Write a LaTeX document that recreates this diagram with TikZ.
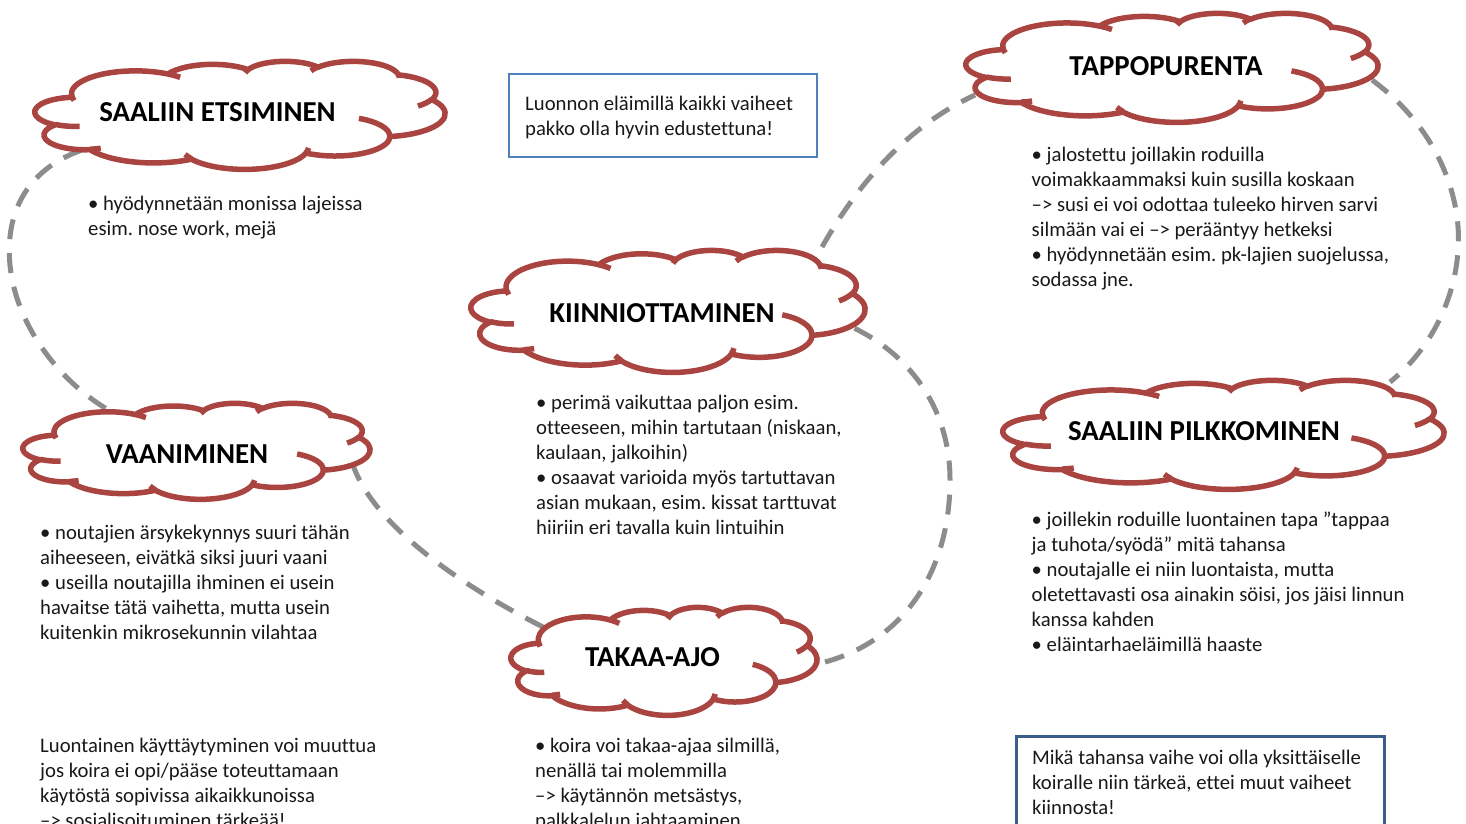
\documentclass[tikz,border=0pt]{standalone}
\usepackage{fontspec}
\setmainfont{Carlito}[Ligatures=NoCommon]
\usetikzlibrary{calc}
\definecolor{cloudred}{RGB}{170,68,64}
\definecolor{dashgray}{RGB}{140,140,140}
\definecolor{boxblue}{RGB}{79,129,189}
\definecolor{boxdark}{RGB}{56,93,138}
\definecolor{txt}{RGB}{25,25,25}
\frenchspacing

% one elliptic arc of the Office cloud shape: wR, hR, start angle, sweep (visual angles)
\newcommand\carc[4]{arc[x radius=#1, y radius=#2, start angle={atan2(#1*sin(#3),#2*cos(#3))}, delta angle={mod(atan2(#1*sin(#3+#4),#2*cos(#3+#4))-atan2(#1*sin(#3),#2*cos(#3))+720,360)}]}

% cloud drawn in the box of node #1, of width #2 and height #3
\newcommand\drawcloud[3]{%
  \begin{scope}[shift={(#1.north west)}, x={({#2pt/432},0pt)}, y={(0pt,{-#3pt/432})}]
    \filldraw[cloudline, fill=white] (39.00,143.70)
      \carc{67.53}{91.90}{-190.48748}{123.78053}
      \carc{53.33}{72.67}{-144.10238}{89.94523}
      \carc{43.65}{59.45}{-145.80792}{99.72302}
      \carc{48.57}{65.95}{-130.98607}{117.24173}
      \carc{53.33}{72.73}{-78.70888}{109.02692}
      \carc{67.75}{92.20}{-46.26725}{130.269}
      \carc{57.85}{78.67}{0.62502}{114.03333}
      \carc{67.52}{92.15}{22.4516}{115.17255}
      \carc{77.20}{105.43}{66.24263}{75.71102}
      \carc{43.60}{59.18}{-274.94208}{146.73557}
      \carc{43.45}{59.45}{-246.8285}{152.51885}
      -- cycle;
    \draw[cloudline]
      (46.93,261.77) \carc{43.45}{59.45}{86.742}{26.4295}
      (69.28,348.99) \carc{43.60}{59.18}{73.61047}{11.44747}
      (164.78,390.90) \carc{67.52}{92.15}{137.62415}{14.0811}
      (288.27,347.51) \carc{67.52}{92.15}{6.45327}{15.99835}
      (341.29,229.54) \carc{57.85}{78.67}{-70.29235}{70.91737}
      (417.98,153.54) \carc{53.33}{72.73}{30.31803}{27.7515}
      (383.24,54.26) \carc{48.57}{65.95}{-13.74433}{14.8589}
      (290.78,39.52) \carc{48.57}{65.95}{-149.18145}{18.19537}
      (221.41,47.20) \carc{43.65}{59.45}{-163.49427}{17.68635}
      (140.00,51.92) \carc{67.53}{91.90}{-66.70695}{12.31935}
      (41.27,157.89) \carc{67.53}{91.90}{157.65435}{11.85817};
  \end{scope}}

\tikzset{
  cloudline/.style={draw=cloudred, line width=5.5pt, line join=round},
  cloudbox/.style={inner sep=0pt, outer sep=0pt, draw=none, rectangle},
  conn/.style={draw=dashgray, line width=5pt, dash pattern=on 20pt off 14pt},
  title/.style={anchor=base, inner sep=0pt, font=\fontsize{28.9}{34}\selectfont\bfseries, text=black},
  body/.style={anchor=north west, inner sep=0pt, align=left, text=txt,
    font=\fontsize{20.7}{25}\selectfont, execute at begin node={\rule{0pt}{17pt}}},
  notebox/.style={draw=boxblue, line width=2pt, fill=white, inner sep=0pt, anchor=north west, rectangle},
  notebox2/.style={draw=boxdark, line width=3pt, fill=white, inner sep=0pt, anchor=north west, rectangle}
}

\begin{document}
\begin{tikzpicture}[x=1pt, y=-1pt]
\useasboundingbox (0,0) rectangle (1466,823);
\clip (0,0) rectangle (1466,823);
\fill[white] (0,0) rectangle (1466,823);

% cloud boxes (invisible)
\node[cloudbox, minimum width=410, minimum height=108] (etsi)   at (240,115) {};
\node[cloudbox, minimum width=412, minimum height=109] (tappo)  at (1172,67.5) {};
\node[cloudbox, minimum width=394, minimum height=122] (kiinni) at (668,311) {};
\node[cloudbox, minimum width=347, minimum height=96]  (vaani)  at (196.5,451) {};
\node[cloudbox, minimum width=441, minimum height=109] (pilkko) at (1223.5,434.5) {};
\node[cloudbox, minimum width=306, minimum height=108] (takaa)  at (664,661) {};

% dashed connectors
\draw[conn] ($(etsi.south west)+(47,-19)$) .. controls (25,170) and (5,215) .. (10,265)
  .. controls (15,320) and (55,380) .. ($(vaani.north west)+(89,9)$);
\draw[conn] ($(vaani.south east)+(-18,-37)$) .. controls (370,520) and (450,580) .. ($(takaa.north west)+(34,21)$);
\draw[conn] ($(takaa.east)+(8,1)$) .. controls (905,640) and (950,570) .. (950,480)
  .. controls (950,400) and (900,345) .. ($(kiinni.south east)+(-25,-50)$);
\draw[conn] ($(kiinni.north east)+(-43,-3)$) .. controls (860,180) and (910,125) .. ($(tappo.south west)+(9,-27)$);
\draw[conn] ($(tappo.east)+(-6,12.5)$) .. controls (1440,130) and (1462,200) .. (1458,250)
  .. controls (1455,300) and (1430,350) .. ($(pilkko.north east)+(-54,2)$);

% clouds
\drawcloud{etsi}{410}{108}
\drawcloud{tappo}{412}{109}
\drawcloud{kiinni}{394}{122}
\drawcloud{vaani}{347}{96}
\drawcloud{pilkko}{441}{109}
\drawcloud{takaa}{306}{108}

% titles
\node[title] (etsiT)   at (217.5,121.8) {SAALIIN ETSIMINEN};
\node[title] (tappoT)  at (1166,75.5) {TAPPOPURENTA};
\node[title] (kiinniT) at (662,322.5) {KIINNIOTTAMINEN};
\node[title] (vaaniT)  at (187,463.5) {VAANIMINEN};
\node[title] (pilkkoT) at (1204,440.8) {SAALIIN PILKKOMINEN};
\node[title] (takaaT)  at (652.5,666.5) {TAKAA-AJO};

% body texts
\node[body] (etsiB) at (88,196) {• hyödynnetään monissa lajeissa\\esim. nose work, mejä};
\node[body] (tappoB) at (1031.5,147) {• jalostettu joillakin roduilla\\voimakkaammaksi kuin susilla koskaan\\–> susi ei voi odottaa tuleeko hirven sarvi\\silmään vai ei –> perääntyy hetkeksi\\• hyödynnetään esim. pk-lajien suojelussa,\\sodassa jne.};
\node[body] (kiinniB) at (536,395.3) {• perimä vaikuttaa paljon esim.\\otteeseen, mihin tartutaan (niskaan,\\kaulaan, jalkoihin)\\• osaavat varioida myös tartuttavan\\asian mukaan, esim. kissat tarttuvat\\hiiriin eri tavalla kuin lintuihin};
\node[body] (vaaniB) at (40,525.3) {• noutajien ärsykekynnys suuri tähän\\aiheeseen, eivätkä siksi juuri vaani\\• useilla noutajilla ihminen ei usein\\havaitse tätä vaihetta, mutta usein\\kuitenkin mikrosekunnin vilahtaa};
\node[body] (pilkkoB) at (1031.5,512) {• joillekin roduille luontainen tapa ”tappaa\\ja tuhota/syödä” mitä tahansa\\• noutajalle ei niin luontaista, mutta\\oletettavasti osa ainakin söisi, jos jäisi linnun\\kanssa kahden\\• eläintarhaeläimillä haaste};
\node[body] (takaaB) at (535,737.5) {• koira voi takaa-ajaa silmillä,\\nenällä tai molemmilla\\–> käytännön metsästys,\\palkkalelun jahtaaminen};
\node[body] (noteL) at (40,738) {Luontainen käyttäytyminen voi muuttua\\jos koira ei opi/pääse toteuttamaan\\käytöstä sopivissa aikaikkunoissa\\–> sosialisoituminen tärkeää!};

% boxes
\node[notebox, minimum width=308, minimum height=83] (box1) at (508,73.3) {};
\node[body] (box1T) at ($(box1.north west)+(17,22.7)$) {Luonnon eläimillä kaikki vaiheet\\pakko olla hyvin edustettuna!};
\node[notebox2, minimum width=368, minimum height=130] (box2) at (1015,735) {};
\node[body] (box2T) at ($(box2.north west)+(17,15)$) {Mikä tahansa vaihe voi olla yksittäiselle\\koiralle niin tärkeä, ettei muut vaiheet\\kiinnosta!};
\end{tikzpicture}
\end{document}
